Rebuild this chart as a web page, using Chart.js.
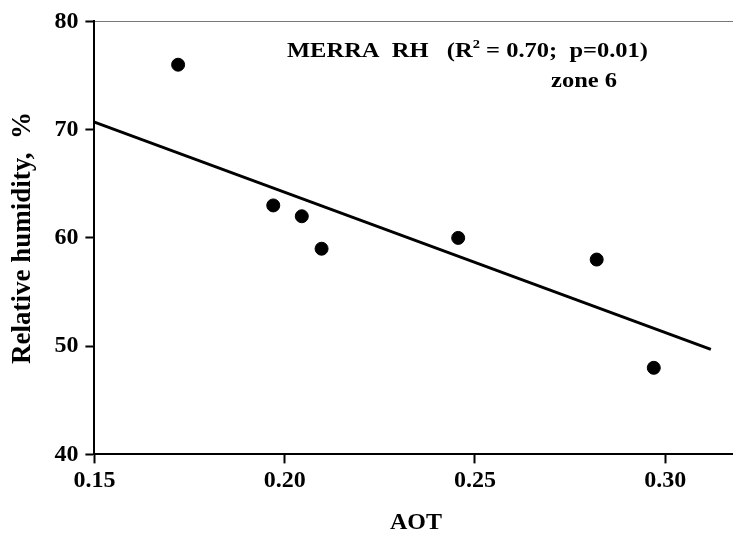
<!DOCTYPE html>
<html>
<head>
<meta charset="utf-8">
<script src="https://cdn.jsdelivr.net/npm/chart.js@4"></script>
<style>
  html, body { margin: 0; padding: 0; background: #fff; overflow: hidden; }
  #wrap { width: 745px; height: 540px; }
</style>
</head>
<body>
<div id="wrap"><canvas id="rhChart"></canvas></div>
<script>
// AOT vs MERRA relative humidity, zone 6
const aot = [0.172, 0.197, 0.2045, 0.2097, 0.2456, 0.282, 0.297];
const rh = [76, 63, 62, 59, 60, 58, 48];

// regression line end points
const fitX = [0.15, 0.312];
const fitY = [70.7, 49.7];

const xTicks = [0.15, 0.2, 0.25, 0.3];
const yTicks = [40, 50, 60, 70, 80];

const serif = "'Liberation Serif', 'Times New Roman', serif";

// text box in the upper right part of the plot
const notePlugin = {
  id: "note",
  afterDraw(chart) {
    const ctx = chart.ctx;
    const a = chart.chartArea;
    ctx.save();
    ctx.fillStyle = "#000";
    ctx.textBaseline = "alphabetic";

    const parts = [
      { t: "MERRA  RH   (R", sup: false },
      { t: "2", sup: true },
      { t: " = 0.70;  p=0.01)", sup: false },
    ];
    const big = "bold 22px " + serif;
    const small = "bold 13px " + serif;
    let w = 0;
    parts.forEach(p => {
      ctx.font = p.sup ? small : big;
      w += ctx.measureText(p.t).width;
    });
    const sx = 361 / w;
    ctx.translate(287, a.top + 36);
    ctx.scale(sx, 1);
    let cx = 0;
    parts.forEach(p => {
      ctx.font = p.sup ? small : big;
      ctx.fillText(p.t, cx, p.sup ? -9 : 0);
      cx += ctx.measureText(p.t).width;
    });
    ctx.restore();

    ctx.save();
    ctx.fillStyle = "#000";
    ctx.font = "bold 22px " + serif;
    const zw = ctx.measureText("zone 6").width;
    ctx.translate(584, a.top + 66);
    ctx.scale(sx, 1);
    ctx.fillText("zone 6", -zw / 2, 0);
    ctx.restore();
  },
};

const ctx = document.getElementById("rhChart");

new Chart(ctx, {
  type: "scatter",
  data: {
    datasets: [
      {
        label: "RH",
        data: aot.map((v, i) => ({ x: v, y: rh[i] })),
        backgroundColor: "#000",
        borderColor: "#000",
        pointRadius: 6.5,
        pointHoverRadius: 6.5,
      },
      {
        type: "line",
        label: "fit",
        data: fitX.map((v, i) => ({ x: v, y: fitY[i] })),
        borderColor: "#000",
        borderWidth: 3,
        pointRadius: 0,
        fill: false,
      },
    ],
  },
  options: {
    responsive: true,
    maintainAspectRatio: false,
    animation: false,
    layout: { padding: { left: 0, right: 0, top: 17, bottom: 3 } },
    plugins: {
      legend: { display: false },
      tooltip: { enabled: false },
    },
    scales: {
      x: {
        type: "linear",
        min: 0.15,
        max: 0.319,
        afterBuildTicks: s => { s.ticks = xTicks.map(v => ({ value: v })); },
        grid: {
          drawOnChartArea: false,
          drawTicks: true,
          tickLength: 9,
          tickColor: "#000",
          tickWidth: 2,
        },
        border: { color: "#000", width: 2 },
        ticks: {
          color: "#000",
          font: { family: serif, size: 24, weight: "bold" },
          padding: 3,
          callback: v => v.toFixed(2),
        },
        title: {
          display: true,
          text: "AOT",
          color: "#000",
          font: { family: serif, size: 24, weight: "bold" },
          padding: { top: 10, bottom: 0 },
        },
      },
      xTop: {
        type: "linear",
        position: "top",
        min: 0.15,
        max: 0.319,
        grid: { drawOnChartArea: false, drawTicks: false },
        border: { color: "#777", width: 1 },
        ticks: { display: false },
      },
      y: {
        min: 40,
        max: 80,
        afterBuildTicks: s => { s.ticks = yTicks.map(v => ({ value: v })); },
        grid: {
          drawOnChartArea: false,
          drawTicks: true,
          tickLength: 9,
          tickColor: "#000",
          tickWidth: 2,
        },
        border: { color: "#000", width: 2 },
        ticks: {
          color: "#000",
          font: { family: serif, size: 24, weight: "bold" },
          padding: 7,
        },
        title: {
          display: true,
          text: "Relative humidity,  %",
          color: "#000",
          font: { family: serif, size: 27, weight: "bold" },
          padding: { top: 7, bottom: 8 },
        },
      },
    },
  },
  plugins: [notePlugin],
});
</script>
</body>
</html>
